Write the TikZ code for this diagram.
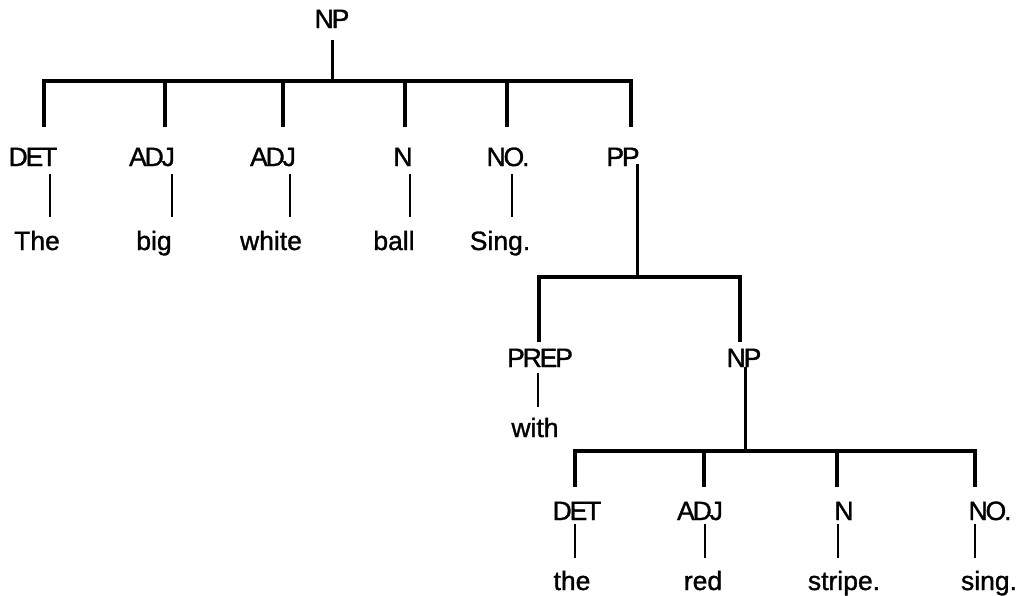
\documentclass[tikz,border=0pt]{standalone}
\usepackage{fontspec}
\setmainfont{Liberation Sans}[FakeBold=1.2]
\newfontfamily\capfont{Liberation Sans}[LetterSpace=-8,FakeBold=1.2]
\usetikzlibrary{calc}
\begin{document}
\begin{tikzpicture}[x=1pt,y=-1pt,
  cat/.style={font=\capfont\fontsize{26.5}{30}\selectfont, inner sep=0pt, outer sep=0pt, text height=19pt, text depth=0pt, anchor=base},
  word/.style={font=\fontsize{26.5}{30}\selectfont, inner sep=0pt, outer sep=0pt, text height=19pt, text depth=0pt, anchor=base},
  branch/.style={line width=3.5pt, line join=miter},
  stem/.style={line width=3pt},
  leaf/.style={line width=2.6pt}]
\fill[white] (0,0) rectangle (1023,595);
\useasboundingbox (0,0) rectangle (1023,595);

% top NP
\node[cat] (np0) at (332,28) {NP};
\coordinate (b1) at (332,81);
\node[cat] (det1) at (33,166) {DET};
\node[cat] (adj1) at (152,166) {ADJ};
\node[cat] (adj2) at (273,166) {ADJ};
\node[cat] (n1) at (403,166) {N};
\node[cat] (no1) at (508,166) {NO.};
\node[cat] (pp) at (623,166) {PP};
\node[word] (w1) at (37,250) {The};
\node[word] (w2) at (154,250) {big};
\node[word] (w3) at (271,250) {white};
\node[word] (w4) at (394,250) {ball};
\node[word] (w5) at (500,250) {Sing.};

\draw[stem] ($(np0.south)+(0,12)$) -- (b1);
\draw[branch] ($(det1.north)+(11,-20)$) |- (b1);
\draw[branch] ($(adj1.north)+(13,-20)$) |- (b1);
\draw[branch] ($(adj2.north)+(10,-20)$) |- (b1);
\draw[branch] ($(n1.north)+(2,-20)$) |- (b1);
\draw[branch] ($(no1.north)+(-1,-20)$) |- (b1);
\draw[branch] ($(pp.north)+(8,-20)$) |- (b1);

\draw[leaf] ($(det1.south)+(17,8)$) -- ($(w1.north)+(13,-14)$);
\draw[leaf] ($(adj1.south)+(20,8)$) -- ($(w2.north)+(18,-14)$);
\draw[leaf] ($(adj2.south)+(17,8)$) -- ($(w3.north)+(19,-14)$);
\draw[leaf] ($(n1.south)+(7,8)$) -- ($(w4.north)+(16,-14)$);
\draw[leaf] ($(no1.south)+(4,8)$) -- ($(w5.north)+(12,-14)$);

% PP
\coordinate (b2) at (637,277);
\node[cat] (prep) at (540,367) {PREP};
\node[cat] (np2) at (744,367) {NP};
\node[word] (with) at (535,437) {with};
\draw[stem] ($(pp.south)+(14,-2)$) -- (b2);
\draw[branch] ($(prep.north)+(-1,-6)$) |- (b2);
\draw[branch] ($(np2.north)+(-4,-6)$) |- (b2);
\draw[leaf] ($(prep.south)+(-2,6)$) -- ($(with.north)+(3,-11)$);

% inner NP
\coordinate (b3) at (745,451);
\node[cat] (det2) at (577,520) {DET};
\node[cat] (adj3) at (700,520) {ADJ};
\node[cat] (n2) at (844,520) {N};
\node[cat] (no2) at (990,520) {NO.};
\node[word] (w6) at (572,590) {the};
\node[word] (w7) at (703,590) {red};
\node[word] (w8) at (844,590) {stripe.};
\node[word] (w9) at (989,590) {sing.};
\draw[stem] ($(np2.south)+(1,0)$) -- (b3);
\draw[branch] ($(det2.north)+(-2,-14)$) |- (b3);
\draw[branch] ($(adj3.north)+(4,-14)$) |- (b3);
\draw[branch] ($(n2.north)+(-7,-14)$) |- (b3);
\draw[branch] ($(no2.north)+(-15,-14)$) |- (b3);
\draw[leaf] ($(det2.south)+(-2,4)$) -- ($(w6.north)+(3,-13)$);
\draw[leaf] ($(adj3.south)+(5,4)$) -- ($(w7.north)+(2,-13)$);
\draw[leaf] ($(n2.south)+(-6,4)$) -- ($(w8.north)+(-6,-13)$);
\draw[leaf] ($(no2.south)+(-15,4)$) -- ($(w9.north)+(-14,-13)$);
\end{tikzpicture}
\end{document}
